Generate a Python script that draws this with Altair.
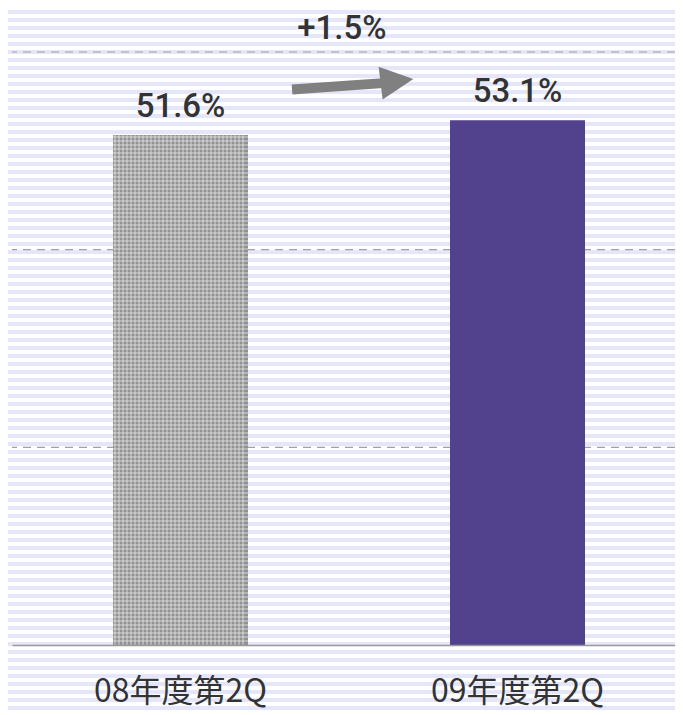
import altair as alt
import pandas as pd

# ---- data ----
categories = ["08年度第2Q", "09年度第2Q"]
values = [51.6, 53.1]
value_labels = ["51.6%", "53.1%"]
bar_colors = ["#929292", "#52418D"]

change_label = ["+1.5%"]
change_x = [0.979]
change_y = [61.3]
arrow_x = [0.831]
arrow_x2 = [1.122]
arrow_y = [56.2]
arrow_y2 = [56.9]
head_x = [1.1424]
head_y = [57.06]
grid_values = [20, 40, 60]

# ---- layout ----
W, H = 663, 637
XR = 674
YMAX = 64.45
BOTTOM = 70
TOTAL_H = H + BOTTOM
PX_PER_UNIT = H / YMAX


def stripes(total, start, on, period, c_off, c_on):
    st = [{"offset": 0, "color": c_off}]
    k = 0
    while period * k + start + on < total:
        a = (period * k + start) / total
        b = (period * k + start + on) / total
        st += [{"offset": a, "color": c_off}, {"offset": a, "color": c_on},
               {"offset": b, "color": c_on}, {"offset": b, "color": c_off}]
        k += 1
    st.append({"offset": 1, "color": c_off})
    return st


bg_grad = alt.LinearGradient(gradient="linear", x1=0, y1=0, x2=0, y2=1,
                             stops=stripes(TOTAL_H, 2, 4, 8, "#FFFFFF", "#E6E6FA"))

bg = alt.Chart(pd.DataFrame({"d": [0]})).mark_rect(fill=bg_grad, clip=False).encode(
    x=alt.value(-4), x2=alt.value(W), y=alt.value(0), y2=alt.value(TOTAL_H)
)

yscale = alt.Scale(domain=[0, YMAX], nice=False)
xscale = alt.Scale(domain=categories, paddingInner=0, paddingOuter=0, range=[0, XR])

grid = alt.Chart(pd.DataFrame({"g": grid_values})).mark_rule(
    color="#A0A0A0", strokeDash=[8, 6], strokeWidth=1.2
).encode(y=alt.Y("g:Q", scale=yscale, axis=None))

bars_df = pd.DataFrame({"cat": categories, "val": values, "label": value_labels, "color": bar_colors})

bars = alt.Chart(bars_df).mark_bar(width=135).encode(
    x=alt.X("cat:N", scale=xscale, sort=categories,
            axis=alt.Axis(title=None, orient="bottom", labelAngle=0, ticks=False, domain=True,
                          domainColor="#999999", domainWidth=1.5, labelFont="Noto Sans CJK JP",
                          labelFontSize=32, labelColor="#333333", labelPadding=31, labelLimit=0,
                          grid=False, zindex=2)),
    y=alt.Y("val:Q", scale=yscale, axis=None),
    color=alt.Color("color:N", scale=None),
)

# dotted texture on the grey bar (style only)
gray_df = bars_df.iloc[[0]]
bar_px_h = values[0] * PX_PER_UNIT
tex_v = alt.LinearGradient(gradient="linear", x1=0, y1=0, x2=1, y2=0,
                           stops=stripes(135, 1, 2, 4, "rgba(255,255,255,0)", "rgba(255,255,255,0.3)"))
tex_h = alt.LinearGradient(gradient="linear", x1=0, y1=0, x2=0, y2=1,
                           stops=stripes(bar_px_h, 1, 2, 4, "rgba(255,255,255,0)", "rgba(255,255,255,0.3)"))
over_v = alt.Chart(gray_df).mark_bar(width=135, fill=tex_v).encode(
    x=alt.X("cat:N", scale=xscale, sort=categories),
    y=alt.Y("val:Q", scale=yscale, axis=None),
)
over_h = alt.Chart(gray_df).mark_bar(width=135, fill=tex_h).encode(
    x=alt.X("cat:N", scale=xscale, sort=categories),
    y=alt.Y("val:Q", scale=yscale, axis=None),
)

labels = alt.Chart(bars_df).mark_text(
    baseline="alphabetic", dy=-18, font="Roboto", fontWeight=500, fontSize=33, color="#333333"
).encode(
    x=alt.X("cat:N", scale=xscale, sort=categories),
    y=alt.Y("val:Q", scale=yscale, axis=None),
    text="label:N",
)

main = alt.layer(bars, over_v, over_h, labels)

ann_x = alt.Scale(domain=[0, 2], nice=False, zero=False, range=[0, XR])

arrow_df = pd.DataFrame({"x": arrow_x, "x2": arrow_x2, "y": arrow_y, "y2": arrow_y2})
shaft = alt.Chart(arrow_df).mark_rule(strokeWidth=10, color="#808080", strokeCap="butt").encode(
    x=alt.X("x:Q", scale=ann_x, axis=None), x2="x2:Q",
    y=alt.Y("y:Q", scale=yscale, axis=None), y2="y2:Q",
)

head_df = pd.DataFrame({"x": head_x, "y": head_y})
head = alt.Chart(head_df).mark_point(
    shape="M-1,-1L1,0L-1,1Z", size=1090, filled=True, opacity=1, color="#808080", angle=353
).encode(
    x=alt.X("x:Q", scale=ann_x, axis=None),
    y=alt.Y("y:Q", scale=yscale, axis=None),
)

change_df = pd.DataFrame({"x": change_x, "y": change_y, "t": change_label})
change = alt.Chart(change_df).mark_text(
    baseline="alphabetic", font="Roboto", fontWeight=500, fontSize=33, color="#333333"
).encode(
    x=alt.X("x:Q", scale=ann_x, axis=None),
    y=alt.Y("y:Q", scale=yscale, axis=None),
    text="t:N",
)

ann = alt.layer(shaft, head, change)

chart = alt.layer(bg, grid, main, ann).resolve_scale(
    x="independent"
).properties(
    width=W, height=H,
    autosize=alt.AutoSizeParams(type="none"),
    padding={"left": 4, "top": 0, "right": 0, "bottom": BOTTOM},
    background="white",
).configure_view(strokeWidth=0)

chart.save("out.html", embed_options={"renderer": "svg", "actions": False})
